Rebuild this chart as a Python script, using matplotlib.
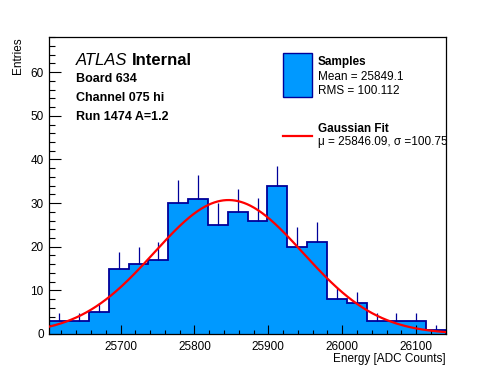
import numpy as np
import matplotlib
matplotlib.use('Agg')
import matplotlib.pyplot as plt
from matplotlib.ticker import MultipleLocator

plt.rcParams['font.family'] = ['Liberation Sans', 'DejaVu Sans']

# histogram data
x_lo, x_hi = 25603.5, 26140.5
counts = [3, 3, 5, 15, 16, 17, 30, 31, 25, 28,
          26, 34, 20, 21, 8, 7, 3, 3, 3, 1]
errors = [1.7, 1.7, 2.2, 3.8, 4.0, 4.1, 5.3, 5.5, 5.0, 5.3,
          5.1, 4.4, 4.5, 4.6, 2.6, 2.7, 1.7, 1.7, 1.7, 1.0]

# gaussian fit parameters
fit_mu = 25846.09
fit_sigma = 100.75
fit_amp = 30.7

sample_mean = 25849.1
sample_rms = 100.112

info_lines = ["Board 634", "Channel 075 hi", "Run 1474 A=1.2"]

FILL = '#0099ff'
EDGE = '#000099'

counts = np.array(counts, dtype=float)
errors = np.array(errors)
edges = np.linspace(x_lo, x_hi, len(counts) + 1)
centers = 0.5 * (edges[:-1] + edges[1:])

W, H = 496, 372
fig = plt.figure(figsize=(W / 100, H / 100), dpi=100)
ax = fig.add_axes([49.3 / W, 1 - 334 / H, (446 - 49.3) / W, (334 - 37.3) / H])

ax.stairs(counts, edges, fill=True, color=FILL, zorder=1)
ax.stairs(counts, edges, color=EDGE, lw=1.3, zorder=2)
ax.vlines(centers, counts, counts + errors, color=EDGE, lw=0.9, zorder=2)

xf = np.linspace(x_lo, x_hi, 400)
yf = fit_amp * np.exp(-0.5 * ((xf - fit_mu) / fit_sigma) ** 2)
ax.plot(xf, yf, color='#ff0000', lw=1.6, zorder=3)

ax.set_xlim(x_lo, x_hi)
ax.set_ylim(0, 68)

ax.xaxis.set_major_locator(MultipleLocator(100))
ax.xaxis.set_minor_locator(MultipleLocator(20))
ax.yaxis.set_major_locator(MultipleLocator(10))
ax.yaxis.set_minor_locator(MultipleLocator(2))
ax.tick_params(axis='x', which='major', direction='in', length=6.4, width=0.8,
               labelsize=8.5, pad=5)
ax.tick_params(axis='x', which='minor', direction='in', length=3.2, width=0.8)
ax.tick_params(axis='y', which='major', direction='in', length=8.6, width=0.8,
               labelsize=8.5, pad=4)
ax.tick_params(axis='y', which='minor', direction='in', length=4.3, width=0.8)
for s in ax.spines.values():
    s.set_linewidth(0.9)

ax.set_xlabel('Energy [ADC Counts]', fontsize=8.5, loc='right', labelpad=0)
ax.set_ylabel('Entries', fontsize=8.5, loc='top', labelpad=5)

# ATLAS label and run info
atl = fig.text(76 / W, 1 - 65 / H, 'ATLAS', fontsize=12, style='italic')
r = fig.canvas.get_renderer()
bb = atl.get_window_extent(renderer=r)
fig.text((bb.x1 + 4) / W, 1 - 65 / H, 'Internal', fontsize=12, weight='bold')
for i, line in enumerate(info_lines):
    fig.text(76 / W, 1 - (82 + 19 * i) / H, line, fontsize=9, weight='bold')

# legend drawn by hand
lx0, lx1 = 283.3, 311.7
fig.patches.append(plt.Rectangle((lx0 / W, 1 - 96.7 / H), (lx1 - lx0) / W,
                                 (96.7 - 53.3) / H, transform=fig.transFigure,
                                 facecolor=FILL, edgecolor=EDGE, lw=1.0))
tx = 317.7 / W
fig.text(tx, 1 - 65 / H, 'Samples', fontsize=8.5, weight='bold')
fig.text(tx, 1 - 80.5 / H, f'Mean = {sample_mean}', fontsize=8.5)
fig.text(tx, 1 - 94.3 / H, f'RMS = {sample_rms}', fontsize=8.5)
fig.lines.append(plt.Line2D([lx0 / W, lx1 / W], [1 - 136 / H, 1 - 136 / H],
                            transform=fig.transFigure, color='#ff0000', lw=1.6))
fig.text(tx, 1 - 132.5 / H, 'Gaussian Fit', fontsize=8.5, weight='bold')
fig.text(tx, 1 - 145.5 / H, f'\u03bc = {fit_mu}, \u03c3 ={fit_sigma}', fontsize=8.5)

fig.savefig('out.png', dpi=100)
